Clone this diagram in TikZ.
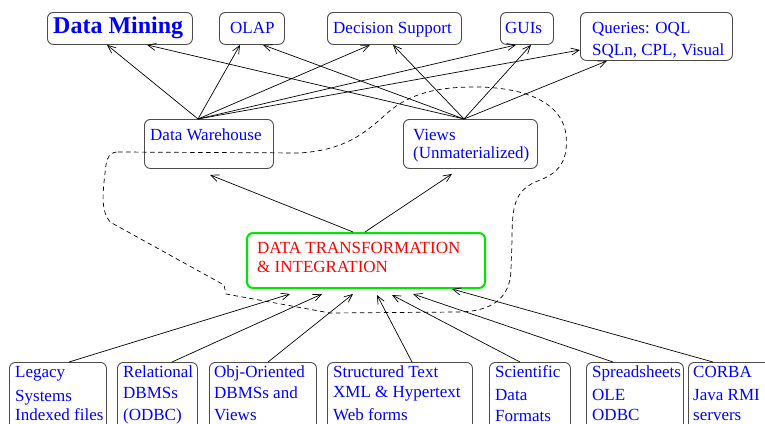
\documentclass[tikz,border=0pt]{standalone}
\usepackage{fontspec}
\setmainfont{Liberation Serif}
\usetikzlibrary{arrows.meta}
\definecolor{bx}{gray}{0.3}
\definecolor{grn}{RGB}{0,230,0}
\tikzset{
  box/.style={draw=bx, line width=0.9pt, rounded corners=6pt, inner sep=0pt, anchor=north west},
  lbl/.style={text=blue, font=\fontsize{17}{19}\selectfont, inner sep=0pt, anchor=base west},
  rlbl/.style={lbl, text=red},
  arr/.style={line width=0.7pt, -{Straight Barb[length=8pt,width=7pt]}},
  blob/.style={line width=0.7pt, dash pattern=on 4.5pt off 3.5pt},
}
\begin{document}
\begin{tikzpicture}[x=1pt,y=-1pt]
\useasboundingbox (0,0) rectangle (765,423);
\clip (0,0) rectangle (765,423);
% top boxes
\node[box, minimum width=145, minimum height=32] (dm) at (47,12) {};
\node[box, minimum width=65, minimum height=32] (olap) at (219,12) {};
\node[box, minimum width=134, minimum height=32] (ds) at (327,12) {};
\node[box, minimum width=53, minimum height=32] (gui) at (500,12) {};
\node[box, minimum width=152, minimum height=48] (q) at (580,12) {};
\node[lbl, font=\fontsize{24}{26}\selectfont\bfseries] (dmt) at (53,33) {Data Mining};
\node[lbl] (olapt) at (230,33) {OLAP};
\node[lbl] (dst) at (333,33) {Decision Support};
\node[lbl] (guit) at (505,33) {GUIs};
\node[lbl] (qt1) at (592,33) {Queries: OQL};
\node[lbl] (qt2) at (592,55) {SQLn, CPL, Visual};
% middle boxes
\node[box, minimum width=129, minimum height=49] (dw) at (144,119) {};
\node[box, minimum width=134, minimum height=49] (vw) at (403,119) {};
\node[lbl] (dwt) at (150,140) {Data Warehouse};
\node[lbl] (vwt1) at (413,140) {Views};
\node[lbl] (vwt2) at (413,158) {(Unmaterialized)};
% transformation
\node[box, draw=grn, line width=2pt, minimum width=238, minimum height=55] (tr) at (246,232) {};
\node[rlbl] (trt1) at (257,253) {DATA TRANSFORMATION};
\node[rlbl] (trt2) at (257,272) {\& INTEGRATION};
% bottom boxes
\node[box, minimum width=97, minimum height=80] (leg) at (9,362) {};
\node[box, minimum width=80, minimum height=80] (rel) at (117,362) {};
\node[box, minimum width=107, minimum height=80] (obj) at (209,362) {};
\node[box, minimum width=145, minimum height=80] (str) at (327,362) {};
\node[box, minimum width=81, minimum height=80] (sci) at (489,362) {};
\node[box, minimum width=97, minimum height=80] (spr) at (586,362) {};
\node[box, minimum width=90, minimum height=80] (cor) at (688,362) {};
\node[lbl] (legt1) at (15,377) {Legacy};
\node[lbl] (legt2) at (15,401) {Systems};
\node[lbl] (legt3) at (15,420) {Indexed files};
\node[lbl] (relt1) at (123,377) {Relational};
\node[lbl] (relt2) at (123,398) {DBMSs};
\node[lbl] (relt3) at (123,420) {(ODBC)};
\node[lbl] (objt1) at (214,377) {Obj-Oriented};
\node[lbl] (objt2) at (214,398) {DBMSs and};
\node[lbl] (objt3) at (214,420) {Views};
\node[lbl] (strt1) at (333,377) {Structured Text};
\node[lbl] (strt2) at (333,397) {XML \& Hypertext};
\node[lbl] (strt3) at (333,420) {Web forms};
\node[lbl] (scit1) at (495,377) {Scientific};
\node[lbl] (scit2) at (495,400) {Data};
\node[lbl] (scit3) at (495,421) {Formats};
\node[lbl] (sprt1) at (592,377) {Spreadsheets};
\node[lbl] (sprt2) at (592,400) {OLE};
\node[lbl] (sprt3) at (592,420) {ODBC};
\node[lbl] (cort1) at (693,377) {CORBA};
\node[lbl] (cort2) at (693,400) {Java RMI};
\node[lbl] (cort3) at (693,420) {servers};
% arrows from data warehouse
\draw[arr] ([xshift=54]dw.north west) -- ([xshift=60]dm.south west);
\draw[arr] ([xshift=54]dw.north west) -- ([xshift=21]olap.south west);
\draw[arr] ([xshift=54]dw.north west) -- ([xshift=43]ds.south west);
\draw[arr] ([xshift=54]dw.north west) -- ([xshift=16]gui.south west);
\draw[arr] ([xshift=54]dw.north west) -- ([yshift=-38]q.north west);
% arrows from views
\draw[arr] ([xshift=61]vw.north west) -- ([xshift=100]dm.south west);
\draw[arr] ([xshift=61]vw.north west) -- ([xshift=44]olap.south west);
\draw[arr] ([xshift=61]vw.north west) -- ([xshift=66]ds.south west);
\draw[arr] ([xshift=61]vw.north west) -- ([xshift=31]gui.south west);
\draw[arr] ([xshift=61]vw.north west) -- ([xshift=27]q.south west);
% from transformation
\draw[arr] ([xshift=107]tr.north west) -- ([xshift=66,yshift=-6]dw.south west);
\draw[arr] ([xshift=119]tr.north west) -- ([xshift=49,yshift=-5]vw.south west);
% from sources
\draw[arr] ([xshift=60]leg.north west) -- ([xshift=44,yshift=-5]tr.south west);
\draw[arr] ([xshift=55]rel.north west) -- ([xshift=76,yshift=-5]tr.south west);
\draw[arr] ([xshift=59]obj.north west) -- ([xshift=107,yshift=-5]tr.south west);
\draw[arr] ([xshift=85]str.north west) -- ([xshift=131,yshift=-6]tr.south west);
\draw[arr] ([xshift=31]sci.north west) -- ([xshift=146,yshift=-6]tr.south west);
\draw[arr] ([xshift=27]spr.north west) -- ([xshift=167,yshift=-5]tr.south west);
\draw[arr] ([xshift=25]cor.north west) -- ([xshift=206]tr.south west);
% dashed region
\draw[blob] (118,152) -- (300,153)
  .. controls (340,150) and (360,138) .. (385,115)
  .. controls (410,92) and (440,87) .. (475,87)
  .. controls (520,87) and (562,100) .. (566,135)
  .. controls (569,165) and (555,175) .. (535,182)
  .. controls (515,192) and (512,205) .. (512,240)
  -- (511,270)
  .. controls (510,300) and (490,311) .. (460,312)
  -- (330,313) -- (226,294) -- (224,285) -- (110,222)
  .. controls (100,210) and (103,190) .. (106,165)
  .. controls (107,157) and (110,152) .. (118,152) -- cycle;
\end{tikzpicture}
\end{document}
